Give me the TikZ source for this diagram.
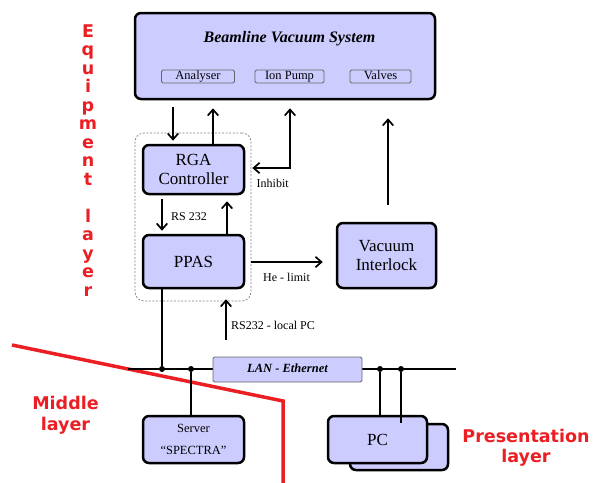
\documentclass[tikz,border=0pt]{standalone}
\usepackage{fontspec}
\setmainfont{Liberation Serif}
\newfontfamily\layerfont{DejaVu Sans}
\usetikzlibrary{arrows.meta}
\definecolor{boxfill}{RGB}{204,204,255}
\definecolor{layerred}{RGB}{235,30,35}

\begin{document}
\begin{tikzpicture}[x=1pt,y=-1pt,
  unit box/.style={draw=black, line width=2.5pt, fill=boxfill, rounded corners=6pt,
    inner sep=0pt, align=center},
  part box/.style={draw=black!60, line width=0.8pt, rounded corners=1.5pt, inner sep=0pt,
    font=\fontsize{12.5}{14}\selectfont, text height=8.5pt, text depth=2.5pt},
  big text/.style={font=\fontsize{17}{19.5}\selectfont},
  link/.style={line width=1.9pt, -{Straight Barb[length=6pt,width=10.5pt,line width=1.7pt]}},
  both link/.style={line width=1.9pt,
    {Straight Barb[length=6pt,width=10.5pt,line width=1.7pt]}-{Straight Barb[length=6pt,width=10.5pt,line width=1.7pt]}},
  wire/.style={line width=1.4pt},
  tap/.style={circle, fill=black, inner sep=0pt, minimum size=6pt},
  note/.style={font=\fontsize{12}{14}\selectfont, inner sep=0pt},
  layerlab/.style={text=layerred, font=\layerfont\bfseries\fontsize{17.5}{21}\selectfont,
    inner sep=0pt, align=center},
]
\useasboundingbox (0,0) rectangle (593,482);

% ---- layer labels -------------------------------------------------------
\foreach \ch [count=\i from 0] in {E,q,u,i,p,m,e,n,t,{},l,a,y,e,r}
  \node[layerlab, anchor=base, name=eq\i] at (88,37+18.5*\i) {\ch};
\node[layerlab] (midlab) at (65.5,415) {Middle\\layer};
\node[layerlab, font=\layerfont\bfseries\fontsize{17.5}{20}\selectfont] (preslab) at (526,447.4) {Presentation\\layer};

% boundary between middle and presentation layers
\draw[layerred, line width=3.5pt] (12,345) -- (283,401) -- (283,486);

% ---- beamline vacuum system ---------------------------------------------
\node[unit box, minimum width=300pt, minimum height=86pt] (bvs) at (285,56) {};
\node[font=\bfseries\itshape\fontsize{16}{18}\selectfont, inner sep=0pt] (bvstitle) at (289.5,38.5) {Beamline Vacuum System};
\node[part box, minimum width=73pt, minimum height=13pt] (analyser) at (198,76.5) {Analyser};
\node[part box, minimum width=69pt, minimum height=13pt] (ionpump) at (289.5,76.5) {Ion Pump};
\node[part box, minimum width=61pt, minimum height=13pt] (valves) at (380.5,76.5) {Valves};

% ---- RGA group -----------------------------------------------------------
\node[draw=black!50, dash pattern=on 2pt off 1.6pt, line width=0.7pt, rounded corners=9pt,
  minimum width=116pt, minimum height=168pt, inner sep=0pt] (grp) at (193,217) {};
\node[unit box, big text, minimum width=101pt, minimum height=49pt] (rga) at (193.5,169.5) {RGA\\Controller};
\node[unit box, big text, minimum width=101pt, minimum height=53pt] (ppas) at (193.5,261.5) {\raisebox{-1.5pt}{PPAS}};
\node[unit box, big text, font=\fontsize{17}{19}\selectfont, minimum width=99pt, minimum height=65pt] (vi) at (386.5,255.5) {Vacuum\\Interlock};

% ---- LAN and computers -----------------------------------------------------
\coordinate (lanL) at (128,369);
\coordinate (lanR) at (456,369);
\draw[wire, line width=1.3pt] (lanL) -- (lanR);
\node[part box, fill=boxfill, minimum width=149pt, minimum height=25pt,
  font=\bfseries\itshape\fontsize{12.5}{14}\selectfont] (lan) at (287.5,369.5) {LAN - Ethernet};

\node[unit box, font=\fontsize{12.5}{22}\selectfont, minimum width=101pt, minimum height=47pt] (srv) at (193.5,439.5) {Server\\“SPECTRA”};
\node[unit box, minimum width=98pt, minimum height=46pt] (pcback) at (399,447) {};
\node[unit box, big text, minimum width=99pt, minimum height=47pt] (pc) at (377.5,439.5) {\raisebox{-3.5pt}{PC}};

\node[tap] (t1) at (162,369) {};
\node[tap] (t2) at (191,369) {};
\node[tap] (t3) at (380,369) {};
\node[tap] (t4) at (401,369) {};
\coordinate (pcin) at (401,423);

\draw[wire] (t1 |- ppas.south) -- (t1);
\draw[wire] (t2) -- (t2 |- srv.north);
\draw[wire] (t3) -- (t3 |- pc.north);
\draw[wire] (t4) -- (pcin);

% ---- signal arrows -------------------------------------------------------
\coordinate (xa) at (173,0);
\coordinate (xb) at (213,0);
\coordinate (xc) at (162,0);
\coordinate (xd) at (227,0);
\coordinate (inh) at (290,168);
\coordinate (he) at (0,262);
\coordinate (lpc) at (226,340);

\draw[link, shorten <=7pt, shorten >=3pt] (xa |- bvs.south) -- (xa |- rga.north);
\draw[link, shorten >=8pt] (xb |- rga.north) -- (xb |- bvs.south);
\draw[both link, shorten <=8pt, shorten >=1pt] (inh |- bvs.south) -- (inh) -- (grp.east |- inh);
\node[note, anchor=west] (inhlab) at (256.5,183) {Inhibit};

\draw[link, shorten <=4pt, shorten >=3pt] (xc |- rga.south) -- (xc |- ppas.north);
\node[note, anchor=west] (rslab) at (171,216.5) {RS 232};
\draw[link, shorten >=6pt] (xd |- ppas.north) -- (xd |- rga.south);

\draw[link, shorten >=13pt] (grp.east |- he) -- (vi.west |- he);
\node[note] (helab) at (286.5,277) {He - limit};
\draw[link, shorten <=17pt, shorten >=18pt] ([xshift=1.5pt]vi.north) -- ([xshift=1.5pt]vi.north |- bvs.south);

\draw[link, shorten >=10pt] (lpc) -- (lpc |- ppas.south);
\node[note, anchor=west] (lpclab) at (231,325) {RS232 - local PC};
\end{tikzpicture}
\end{document}
